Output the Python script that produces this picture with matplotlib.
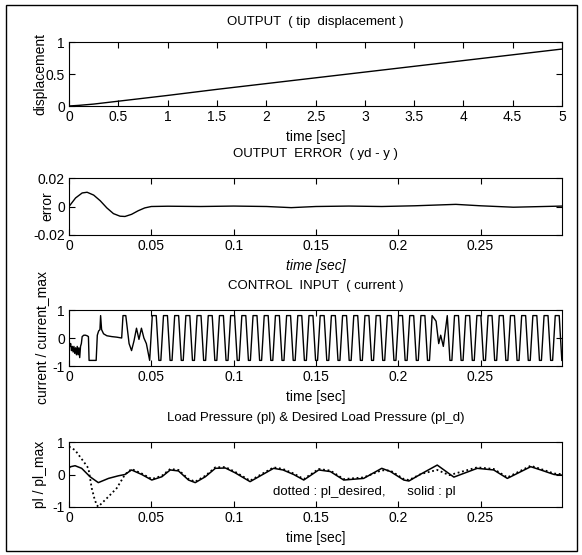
import matplotlib
matplotlib.use("Agg")
import matplotlib.pyplot as plt
from matplotlib.patches import Rectangle

plt.rcParams['font.family'] = ['Liberation Sans Narrow', 'Liberation Sans', 'DejaVu Sans']
plt.rcParams['font.size'] = 10

# ---- data ----
# tip displacement
disp_t = [0, 0.1, 0.25, 0.5, 1, 1.5, 2, 2.5, 3, 3.5, 4, 4.5, 5]
disp = [0, 0.01, 0.03, 0.075, 0.165, 0.26, 0.35, 0.44, 0.53, 0.62, 0.71, 0.80, 0.89]

# output error
err_t = [0, 0.004, 0.008, 0.011, 0.015, 0.019, 0.023, 0.027, 0.031, 0.034, 0.038,
         0.042, 0.046, 0.05, 0.06, 0.08, 0.1, 0.12, 0.135, 0.15, 0.17, 0.19, 0.21,
         0.235, 0.25, 0.27, 0.2995]
err = [0, 0.006, 0.0095, 0.01, 0.008, 0.004, -0.001, -0.005, -0.0068, -0.007, -0.0055,
       -0.003, -0.001, 0, 0.0002, 0, 0.0003, 0, -0.0008, 0, 0.0003, 0, 0.0005,
       0.0015, 0.0005, -0.0005, 0.0003]

# control input (normalised current), start-up part
u0_t = [0, 0.0005, 0.001, 0.0015, 0.002, 0.0025, 0.003, 0.0035, 0.004, 0.0045,
        0.005, 0.0055, 0.006, 0.0065, 0.007, 0.0075, 0.008, 0.009, 0.010, 0.011,
        0.0118, 0.0122, 0.0165, 0.0172, 0.018, 0.0188, 0.0192, 0.0198, 0.021, 0.023,
        0.026, 0.029, 0.032, 0.0328, 0.0345, 0.0355, 0.0365, 0.038, 0.0395, 0.041,
        0.0425, 0.044, 0.0455, 0.047]
u0 = [0.0, -0.3, -0.2, -0.45, -0.3, -0.5, -0.3, -0.55, -0.35, -0.6,
      -0.3, -0.6, -0.35, -0.7, -0.3, -0.2, 0.05, 0.1, 0.1, 0.08,
      0.05, -0.8, -0.8, 0.1, 0.25, 0.3, 0.8, 0.3, 0.15, 0.08,
      0.05, 0.03, 0.0, 0.8, 0.8, 0.3, -0.2, -0.45, -0.1, 0.35,
      -0.05, 0.35, 0.0, -0.2]

# control input, chattering part: one row per cycle (bottom, top, top, bottom)
u1_t = [0.0490, 0.0506, 0.0530, 0.0546,
        0.0558, 0.0574, 0.0598, 0.0614,
        0.0626, 0.0642, 0.0666, 0.0682,
        0.0694, 0.0710, 0.0734, 0.0750,
        0.0762, 0.0778, 0.0802, 0.0818,
        0.0830, 0.0846, 0.0870, 0.0886,
        0.0898, 0.0914, 0.0938, 0.0954,
        0.0966, 0.0982, 0.1006, 0.1022,
        0.1034, 0.1050, 0.1074, 0.1090,
        0.1102, 0.1118, 0.1142, 0.1158,
        0.1170, 0.1186, 0.1210, 0.1226,
        0.1238, 0.1254, 0.1278, 0.1294,
        0.1306, 0.1322, 0.1346, 0.1362,
        0.1374, 0.1390, 0.1414, 0.1430,
        0.1442, 0.1458, 0.1482, 0.1498,
        0.1510, 0.1526, 0.1550, 0.1566,
        0.1578, 0.1594, 0.1618, 0.1634,
        0.1646, 0.1662, 0.1686, 0.1702,
        0.1714, 0.1730, 0.1754, 0.1770,
        0.1782, 0.1798, 0.1822, 0.1838,
        0.1850, 0.1866, 0.1890, 0.1906,
        0.1918, 0.1934, 0.1958, 0.1974,
        0.1986, 0.2002, 0.2026, 0.2042,
        0.2054, 0.2070, 0.2094, 0.2110,
        0.2122, 0.2138, 0.2162, 0.2178,
        0.2190, 0.2206, 0.2230, 0.2246,
        0.2258, 0.2274, 0.2298, 0.2314,
        0.2326, 0.2342, 0.2366, 0.2382,
        0.2394, 0.2410, 0.2434, 0.2450,
        0.2462, 0.2478, 0.2502, 0.2518,
        0.2530, 0.2546, 0.2570, 0.2586,
        0.2598, 0.2614, 0.2638, 0.2654,
        0.2666, 0.2682, 0.2706, 0.2722,
        0.2734, 0.2750, 0.2774, 0.2790,
        0.2802, 0.2818, 0.2842, 0.2858,
        0.2870, 0.2886, 0.2910, 0.2926,
        0.2938, 0.2954, 0.2978, 0.2994]
u1 = [-0.8, 0.8, 0.8, -0.8,   # 0.049
      -0.8, 0.8, 0.8, -0.8,
      -0.8, 0.8, 0.8, -0.8,
      -0.8, 0.8, 0.8, -0.8,
      -0.8, 0.8, 0.8, -0.8,
      -0.8, 0.8, 0.8, -0.8,   # 0.083
      -0.8, 0.8, 0.8, -0.8,
      -0.8, 0.8, 0.8, -0.8,
      -0.8, 0.8, 0.8, -0.8,
      -0.8, 0.8, 0.8, -0.8,
      -0.8, 0.8, 0.8, -0.8,   # 0.117
      -0.8, 0.8, 0.8, -0.8,
      -0.8, 0.8, 0.8, -0.8,
      -0.8, 0.8, 0.8, -0.8,
      -0.8, 0.8, 0.8, -0.8,
      -0.8, 0.8, 0.8, -0.8,   # 0.151
      -0.8, 0.8, 0.8, -0.8,
      -0.8, 0.8, 0.8, -0.8,
      -0.8, 0.8, 0.8, -0.8,
      -0.8, 0.8, 0.8, -0.8,
      -0.8, 0.8, 0.8, -0.8,   # 0.185
      -0.8, 0.8, 0.8, -0.8,
      -0.8, 0.8, 0.8, -0.8,
      -0.8, 0.8, 0.8, -0.8,
      -0.8, 0.8, 0.8, -0.8,
      -0.8, 0.8, 0.6, -0.2,   # 0.219
      0.1, -0.3, 0.8, -0.8,
      -0.8, 0.8, 0.8, -0.8,
      -0.8, 0.8, 0.8, -0.8,
      -0.8, 0.8, 0.8, -0.8,
      -0.8, 0.8, 0.8, -0.8,   # 0.253
      -0.8, 0.8, 0.8, -0.8,
      -0.8, 0.8, 0.8, -0.8,
      -0.8, 0.8, 0.8, -0.8,
      -0.8, 0.8, 0.8, -0.8,
      -0.8, 0.8, 0.8, -0.8,   # 0.287
      -0.8, 0.8, 0.8, -0.8]

# load pressure: solid = measured pl, dotted = desired pl_d
pl_t = [0, 0.001, 0.0037, 0.0077, 0.0128, 0.0178, 0.024, 0.030, 0.034, 0.038, 0.0442,
        0.0503, 0.0564, 0.0615, 0.0665, 0.0726, 0.0767, 0.0828, 0.0889, 0.095, 0.101,
        0.110, 0.1243, 0.130, 0.1365, 0.1426, 0.1517, 0.1588, 0.1669, 0.179, 0.190,
        0.1953, 0.2034, 0.2065, 0.214, 0.2237, 0.2338, 0.248, 0.258, 0.2663, 0.2805,
        0.2866, 0.2947, 0.2995]
pl = [0.2, 0.24, 0.27, 0.19, -0.07, -0.25, -0.12, -0.04, 0.0, 0.14, 0.0,
      -0.17, -0.07, 0.14, 0.11, -0.17, -0.25, -0.07, 0.19, 0.2, 0.05,
      -0.22, 0.19, 0.14, 0.0, -0.17, 0.14, 0.09, -0.17, -0.12, 0.19,
      0.09, -0.17, -0.2, 0.02, 0.29, -0.08, 0.19, 0.14, -0.12, 0.24,
      0.14, 0.0, -0.02]
pld_t = [0, 0.0037, 0.0097, 0.0118, 0.0138, 0.0154, 0.0168, 0.0178, 0.024, 0.029, 0.032,
         0.034, 0.038, 0.0442, 0.0503, 0.0564, 0.0615, 0.0665, 0.0726, 0.0767, 0.0828,
         0.0889, 0.095, 0.101, 0.110, 0.1243, 0.130, 0.1365, 0.1426, 0.1517, 0.1588,
         0.1669, 0.179, 0.190, 0.1953, 0.2034, 0.2065, 0.214, 0.2237, 0.231, 0.248,
         0.258, 0.2663, 0.2805, 0.2866, 0.2947, 0.2995]
pld = [0.86, 0.75, 0.34, 0.19, -0.42, -0.73, -0.94, -0.99, -0.68, -0.42, -0.17,
       0.0, 0.17, 0.03, -0.14, -0.04, 0.17, 0.14, -0.14, -0.22, -0.04,
       0.22, 0.23, 0.08, -0.19, 0.22, 0.17, 0.03, -0.14, 0.17, 0.12,
       -0.14, -0.09, 0.13, 0.12, -0.14, -0.17, 0.02, 0.14, -0.02, 0.22,
       0.17, -0.09, 0.27, 0.17, 0.03, 0.01]

time_ticks = [0, 0.05, 0.1, 0.15, 0.2, 0.25]
time_labels = ['0', '0.05', '0.1', '0.15', '0.2', '0.25']

# ---- figure ----
fig = plt.figure(figsize=(5.82, 5.55), dpi=100)
fig.patches.append(Rectangle((6 / 582, 4 / 555), 571 / 582, 546 / 555,
                             transform=fig.transFigure, fill=False, lw=1, ec='black'))

L, W = 69 / 582, 493 / 582


def setup(ax, ylab_px):
    ax.tick_params(direction='in', top=True, right=True, length=4, width=0.8,
                   labelsize=10, pad=3)
    for s in ax.spines.values():
        s.set_linewidth(0.8)
    # MATLAB puts the y label close to the axis
    ax.yaxis.set_label_coords((ylab_px - 69) / 493, 0.5)


ax1 = fig.add_axes([L, 1 - 106 / 555, W, 64 / 555])
ax1.plot(disp_t, disp, color='black', lw=1)
ax1.set_xlim(0, 5)
ax1.set_ylim(0, 1)
ax1.set_xticks([0, 0.5, 1, 1.5, 2, 2.5, 3, 3.5, 4, 4.5, 5])
ax1.set_xticklabels(['0', '0.5', '1', '1.5', '2', '2.5', '3', '3.5', '4', '4.5', '5'])
ax1.set_yticks([0, 0.5, 1])
ax1.set_yticklabels(['0', '0.5', '1'])
ax1.set_title('OUTPUT  ( tip  displacement )', fontsize=9.5, pad=12)
ax1.set_xlabel('time [sec]')
ax1.set_ylabel('displacement', va='center')
setup(ax1, 40)

ax2 = fig.add_axes([L, 1 - 235 / 555, W, 57 / 555])
ax2.plot(err_t, err, color='black', lw=1)
ax2.set_xlim(0, 0.2995)
ax2.set_ylim(-0.02, 0.02)
ax2.set_xticks(time_ticks)
ax2.set_xticklabels(time_labels)
ax2.set_yticks([-0.02, 0, 0.02])
ax2.set_yticklabels(['-0.02', '0', '0.02'])
ax2.set_title('OUTPUT  ERROR  ( yd - y )', fontsize=9.5, pad=15)
ax2.set_xlabel('time [sec]', style='italic')
ax2.set_ylabel('error', va='center')
setup(ax2, 47)

ax3 = fig.add_axes([L, 1 - 366 / 555, W, 56 / 555])
ax3.plot(u0_t + u1_t, u0 + u1, color='black', lw=1)
ax3.set_xlim(0, 0.2995)
ax3.set_ylim(-1, 1)
ax3.set_xticks(time_ticks)
ax3.set_xticklabels(time_labels)
ax3.set_yticks([-1, 0, 1])
ax3.set_yticklabels(['-1', '0', '1'])
ax3.set_title('CONTROL  INPUT  ( current )', fontsize=9.5, pad=15)
ax3.set_xlabel('time [sec]')
ax3.set_ylabel('current / current_max', va='center')
setup(ax3, 42)

ax4 = fig.add_axes([L, 1 - 507 / 555, W, 65 / 555])
ax4.plot(pl_t, pl, color='black', lw=1.1)
ax4.plot(pld_t, pld, color='black', lw=1.3, ls=(0, (1, 1.5)))
ax4.set_xlim(0, 0.2995)
ax4.set_ylim(-1, 1)
ax4.set_xticks(time_ticks)
ax4.set_xticklabels(time_labels)
ax4.set_yticks([-1, 0, 1])
ax4.set_yticklabels(['-1', '0', '1'])
ax4.set_title('Load Pressure (pl) & Desired Load Pressure (pl_d)', fontsize=9.5, pad=15)
ax4.set_xlabel('time [sec]')
ax4.set_ylabel('pl / pl_max', va='center')
ax4.text(0.124, -0.54, 'dotted : pl_desired,      solid : pl', va='center', ha='left',
         fontsize=9.5)
setup(ax4, 40)

fig.savefig('out.png', dpi=100)
